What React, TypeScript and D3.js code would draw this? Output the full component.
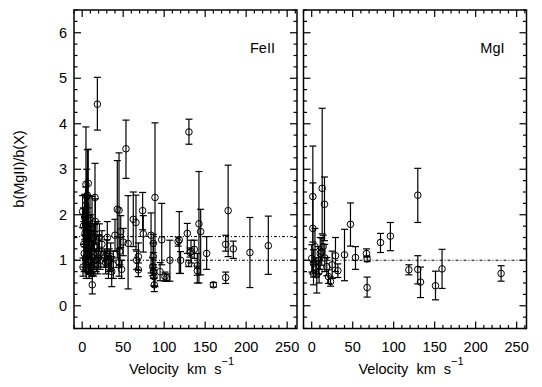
import React from "react";
import * as d3 from "d3";

// FeII panel: velocity, ratio, lower error, upper error
const feVel = [4.6, 7.4, 5.5, 18.5, 0.5, 1.5, 2, 2.5, 1, 3, 3.5, 4.3, 4, 5, 5.5, 6.3, 6.5, 7, 7.5, 8, 8.5, 9.5, 9, 10, 10.5, 11, 11.5, 12, 12.3, 13, 13.5, 14, 15, 15.6, 16, 17, 18, 19, 20, 21, 22, 24,
  27, 28.5, 30.6, 30, 32, 33, 34.7, 36, 38, 40, 42.8, 44.9, 45, 46, 47, 48, 50, 53.4,
  56, 62.3, 65.6, 66.4, 68.5, 68.5, 73.7, 74.5, 84, 86.7, 86.7, 86, 87, 87.5, 88, 88.8, 95, 97, 101, 103, 107,
  117, 118.4, 120, 128.2, 130.2, 130, 131.5, 132.7, 136.7, 140.4, 140.4, 142.4, 144.5, 151.8, 160, 175, 175, 178, 184.3, 204.6, 227];
const feRatio = [2.67, 2.69, 2.4, 4.43, 2.07, 1.75, 1.35, 1.15, 0.85, 1.95, 1.6, 2.21, 1.05, 0.8, 1.45, 2.43, 1.25, 0.95, 1.7, 1.1, 0.75, 1.92, 1.4, 1.0, 1.6, 0.85, 1.2, 1.8, 0.46, 1.05, 1.5, 0.8, 1.3, 2.38, 1.85, 1.0, 1.45, 0.9, 1.2, 1.5, 1.0, 1.35,
  1.05, 0.95, 1.5, 1.15, 0.85, 1.0, 1.08, 0.75, 0.9, 1.55, 2.12, 2.1, 0.95, 1.2, 1.63, 0.8, 1.4, 3.45,
  1.37, 1.9, 1.83, 1.0, 1.08, 0.79, 2.09, 1.58, 1.55, 1.37, 1.08, 0.86, 0.75, 0.64, 0.46, 2.38, 0.75, 1.45, 0.64, 0.62, 1.0,
  1.41, 1.45, 1.0, 1.59, 3.82, 0.93, 1.17, 1.19, 1.24, 0.88, 0.77, 1.8, 1.63, 1.15, 0.46, 1.35, 0.62, 2.09, 1.25, 1.17, 1.32];
const feErrLo = [1.2, 0.75, 0.6, 0.57, 0.35, 0.4, 0.5, 0.4, 0.2, 0.5, 0.3, 0.4, 0.3, 0.2, 0.6, 1.0, 0.3, 0.25, 0.45, 0.4, 0.15, 0.5, 0.35, 0.3, 0.4, 0.2, 0.45, 0.6, 0.2, 0.35, 0.3, 0.15, 0.5, 0.75, 0.5, 0.25, 0.4, 0.2, 0.35, 0.3, 0.2, 0.3,
  0.2, 0.25, 0.35, 0.3, 0.25, 0.25, 0.3, 0.33, 0.3, 0.35, 1.07, 1.26, 0.3, 0.3, 0.35, 0.2, 0.3, 0.65,
  1.0, 0.6, 0.6, 0.2, 0.3, 0.15, 0.42, 0.4, 0.83, 0.2, 0.3, 0.2, 0.15, 0.2, 0.15, 1.96, 0.2, 0.55, 0.1, 0.08, 0.46,
  0.1, 0.74, 0.29, 0.44, 0.27, 0.07, 0.1, 0.25, 0.2, 0.38, 0.1, 1.3, 0.95, 0.35, 0.05, 0.15, 0.13, 1.01, 0.21, 0.77, 0.63];
const feErrHi = [1.26, 0.75, 0.6, 0.59, 0.35, 0.4, 0.5, 0.4, 0.2, 0.5, 0.3, 0.4, 0.3, 0.2, 0.6, 1.0, 0.3, 0.25, 0.45, 0.4, 0.15, 0.5, 0.35, 0.3, 0.4, 0.2, 0.45, 0.6, 0.2, 0.35, 0.3, 0.15, 0.5, 0.75, 0.5, 0.25, 0.4, 0.2, 0.35, 0.3, 0.2, 0.3,
  0.2, 0.25, 0.35, 0.3, 0.25, 0.25, 0.3, 0.33, 0.3, 0.35, 1.07, 1.26, 0.3, 0.3, 0.35, 0.2, 0.3, 0.63,
  1.05, 0.6, 0.6, 0.2, 0.3, 0.15, 0.4, 0.4, 0.49, 0.2, 0.3, 0.2, 0.15, 0.2, 0.15, 1.64, 0.2, 0.8, 0.1, 0.08, 0.44,
  0.1, 0.62, 0.19, 0.22, 0.28, 0.07, 0.1, 0.25, 0.2, 0.27, 0.1, 1.15, 0.49, 0.37, 0.05, 0.2, 0.12, 1.0, 0.17, 0.77, 0.65];

// MgI panel
const mgVel = [1.4, 1.4, 0.1, 2.2, 2.2, 4, 6.2, 8.3, 10.4, 12.3, 12.8, 15.6, 18.4, 20.5, 5, 9, 14, 16, 23, 25, 29, 31.9, 40, 47.3, 53.4, 66.8, 67.6, 67.6, 83.9, 96, 118.5, 129.4, 129.4, 132.7, 151, 159, 231];
const mgRatio = [2.4, 1.7, 1.04, 0.71, 0.93, 1.3, 0.68, 1.0, 1.15, 1.19, 2.58, 2.23, 0.86, 0.64, 0.85, 0.75, 1.3, 1.05, 0.53, 0.9, 1.1, 0.77, 1.12, 1.79, 1.06, 1.15, 1.03, 0.4, 1.39, 1.53, 0.79, 2.43, 0.8, 0.52, 0.44, 0.81, 0.71];
const mgErrLo = [1.0, 1.0, 0.3, 0.25, 0.3, 0.4, 0.4, 0.3, 0.35, 0.3, 1.0, 0.8, 0.2, 0.15, 0.2, 0.25, 0.25, 0.3, 0.1, 0.3, 0.35, 0.15, 0.57, 0.48, 0.26, 0.08, 0.06, 0.21, 0.22, 0.32, 0.11, 0.6, 0.32, 0.34, 0.31, 0.43, 0.17];
const mgErrHi = [1.11, 1.0, 0.3, 0.25, 0.3, 0.4, 0.3, 0.3, 0.35, 0.3, 1.76, 0.6, 0.2, 0.15, 0.2, 0.25, 0.25, 0.3, 0.1, 0.3, 0.4, 0.15, 0.56, 0.47, 0.24, 0.1, 0.06, 0.23, 0.2, 0.3, 0.11, 0.59, 0.3, 0.33, 0.32, 0.43, 0.17];

const xMajor = [0, 50, 100, 150, 200, 250];
const yMajor = [0, 1, 2, 3, 4, 5, 6];
const feLines = [1.0, 1.52];
const mgLines = [1.0];

const FONT = "'Liberation Sans', Arial, sans-serif";

function Panel({ x0, vel, ratio, lo, hi, lines, label, showY }: any) {
  const W = 223;
  const top = 10, bottom = 328.5;
  const x = d3.scaleLinear().domain([-10, 262]).range([x0, x0 + W]);
  const y = d3.scaleLinear().domain([-0.5, 6.5]).range([bottom, top]);
  const xMinor = d3.range(-10, 262, 10);
  const yMinor = d3.range(-0.5, 6.51, 0.25);
  const maj = 7, min = 3.5;
  const cap = 3.5;
  return (
    <g>
      {lines.map((v: number, i: number) => (
        <line key={"l" + i} x1={x0} x2={x0 + W} y1={y(v)} y2={y(v)} stroke="#000" strokeWidth={1} strokeDasharray="3,2,1,2" />
      ))}
      {vel.map((v: number, i: number) => {
        const cx = x(v), cy = y(ratio[i]);
        const y1 = y(ratio[i] + hi[i]), y2 = y(ratio[i] - lo[i]);
        return (
          <g key={"p" + i} stroke="#000" strokeWidth={1.2} fill="none">
            <line x1={cx} x2={cx} y1={y1} y2={y2} />
            <line x1={cx - cap} x2={cx + cap} y1={y1} y2={y1} />
            <line x1={cx - cap} x2={cx + cap} y1={y2} y2={y2} />
            <circle cx={cx} cy={cy} r={3.3} strokeWidth={1} />
          </g>
        );
      })}
      <g stroke="#000" strokeWidth={1.2}>
        {xMinor.map((v, i) => {
          const isMaj = xMajor.includes(Math.round(v));
          const l = isMaj ? maj : min;
          return (
            <g key={"xt" + i}>
              <line x1={x(v)} x2={x(v)} y1={bottom} y2={bottom - l} />
              <line x1={x(v)} x2={x(v)} y1={top} y2={top + l} />
            </g>
          );
        })}
        {yMinor.map((v, i) => {
          const isMaj = Math.abs(v - Math.round(v)) < 1e-6 && v >= 0;
          const l = isMaj ? maj : min;
          return (
            <g key={"yt" + i}>
              <line x1={x0} x2={x0 + l} y1={y(v)} y2={y(v)} />
              <line x1={x0 + W} x2={x0 + W - l} y1={y(v)} y2={y(v)} />
            </g>
          );
        })}
      </g>
      <rect x={x0} y={top} width={W} height={bottom - top} fill="none" stroke="#000" strokeWidth={1.5} />
      {xMajor.map((v) => (
        <text key={"xl" + v} x={x(v)} y={352} textAnchor="middle" fontFamily={FONT} fontSize={14.5} fill="#000">{v}</text>
      ))}
      {showY && yMajor.map((v) => (
        <text key={"yl" + v} x={67} y={y(v) + 5} textAnchor="end" fontFamily={FONT} fontSize={14.5} fill="#000">{v}</text>
      ))}
      <text x={x0 + W / 2 - 4} y={374} textAnchor="middle" fontFamily={FONT} fontSize={14.5} fill="#000" style={{ whiteSpace: "pre" }}>
        {"Velocity  km  s"}
        <tspan dy={-9} fontSize={11}>{"−1"}</tspan>
      </text>
      <text x={x0 + W - 22} y={53} textAnchor="end" fontFamily={FONT} fontSize={14.5} fill="#000">{label}</text>
    </g>
  );
}

export default function App() {
  return (
    <svg width={542} height={387} style={{ position: "absolute", left: 0, top: 0, background: "#fff" }}>
      <rect x={0} y={0} width={542} height={387} fill="#fff" />
      <Panel x0={74} vel={feVel} ratio={feRatio} lo={feErrLo} hi={feErrHi} lines={feLines} label="FeII" showY={true} />
      <Panel x0={303.5} vel={mgVel} ratio={mgRatio} lo={mgErrLo} hi={mgErrHi} lines={mgLines} label="MgI" showY={false} />
      <text transform="translate(24,169) rotate(-90)" textAnchor="middle" fontFamily={FONT} fontSize={14.5} fill="#000">b(MgII)/b(X)</text>
    </svg>
  );
}
